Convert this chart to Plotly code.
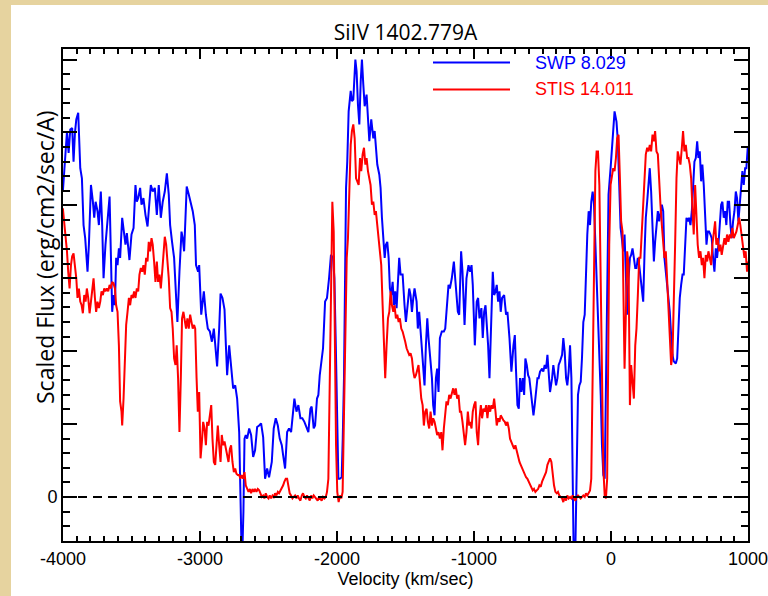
import plotly.graph_objects as go

# ---------------- data (velocity km/s, scaled flux in major-tick units) ----------------
vel_swp = [-4001,-3984,-3971,-3959,-3947,-3933,-3923,-3913,-3903,-3889,-3874,-3862,-3850,-3838,-3821,-3811,
           -3796,-3782,-3772,-3762,-3748,-3738,-3724,-3714,-3704,-3690,-3675,-3660,-3651,-3641,-3631,-3621,
           -3612,-3602,-3592,-3583,-3568,-3553,-3544,-3534,-3524,-3515,-3500,-3485,-3471,-3461,-3451,-3437,
           -3427,-3413,-3398,-3383,-3369,-3359,-3345,-3330,-3315,-3301,-3286,-3272,-3257,-3242,-3228,-3218,
           -3204,-3189,-3174,-3165,-3150,-3135,-3126,-3116,-3106,-3097,-3082,-3067,-3053,-3038,-3029,-3014,
           -3006,-2991,-2972,-2957,-2943,-2928,-2913,-2899,-2889,-2875,-2860,-2850,-2836,-2821,-2811,-2802,
           -2787,-2773,-2758,-2743,-2729,-2714,-2705,-2697,-2690,-2683,-2675,-2666,-2656,-2641,-2627,-2612,
           -2598,-2583,-2568,-2554,-2539,-2525,-2510,-2496,-2476,-2462,-2447,-2432,-2418,-2403,-2393,-2379,
           -2364,-2350,-2335,-2321,-2311,-2296,-2282,-2267,-2253,-2238,-2223,-2209,-2194,-2185,-2170,-2160,
           -2146,-2136,-2126,-2112,-2102,-2087,-2073,-2058,-2044,-2029,-2019,-2010,-2000,-1990,-1980,-1966,
           -1958,-1949,-1934,-1925,-1915,-1900,-1891,-1881,-1866,-1857,-1847,-1837,-1827,-1818,-1808,-1798,
           -1784,-1774,-1764,-1750,-1735,-1725,-1716,-1706,-1691,-1682,-1672,-1662,-1652,-1643,-1633,-1623,
           -1614,-1604,-1594,-1584,-1575,-1565,-1555,-1546,-1536,-1521,-1507,-1497,-1482,-1473,-1463,-1453,
           -1443,-1434,-1419,-1410,-1400,-1390,-1380,-1371,-1361,-1351,-1341,-1332,-1322,-1307,-1298,-1288,
           -1278,-1269,-1259,-1249,-1235,-1220,-1210,-1196,-1186,-1176,-1162,-1147,-1133,-1118,-1108,-1094,
           -1084,-1069,-1055,-1040,-1028,-1018,-1009,-994,-980,-970,-960,-946,-936,-926,-916,-907,-897,-887,
           -873,-863,-853,-843,-834,-824,-814,-805,-795,-780,-766,-756,-741,-727,-712,-702,-693,-683,-673,
           -664,-654,-644,-634,-625,-615,-605,-596,-586,-576,-566,-557,-547,-537,-528,-518,-503,-494,-484,
           -474,-464,-455,-445,-430,-421,-411,-401,-391,-382,-372,-357,-348,-338,-328,-319,-309,-299,-289,
           -280,-273,-260,-251,-241,-231,-221,-212,-202,-192,-183,-173,-163,-153,-144,-134,-124,-114,-105,
           -95,-85,-75,-66,-56,-46,-37,-28,-18,-3,11,26,40,50,60,70,79,89,99,109,118,128,138,147,157,167,
           177,186,196,206,215,225,235,245,254,264,274,283,293,303,313,322,332,342,352,361,371,381,390,400,
           410,420,429,439,449,458,473,483,492,502,512,522,531,541,551,561,570,580,590,599,609,619,629,638,
           648,658,667,677,687,697,706,716,726,735,745,755,765,774,784,794,804,813,823,833,842,852,862,872,
           881,891,901,911,920,930,940,949,959,969,979,988,998]
flux_swp = [4.19,4.70,5.01,4.72,5.04,5.06,4.60,4.99,5.18,5.27,4.51,4.37,3.73,3.55,3.09,3.46,
            4.28,4.05,3.83,4.05,3.92,3.73,4.19,3.73,3.00,3.46,3.80,4.12,3.37,2.54,2.77,2.63,
            3.28,3.18,3.41,3.28,3.83,3.55,3.46,3.62,3.37,3.25,3.60,3.69,4.28,4.05,4.10,4.24,
            4.01,4.10,3.87,3.71,4.05,4.28,4.19,4.24,3.87,4.28,3.83,4.05,4.19,4.44,4.15,3.73,
            3.50,3.28,2.73,2.40,3.09,3.64,3.55,3.37,3.83,4.26,4.15,4.05,3.92,3.73,3.18,3.09,
            3.18,2.50,2.82,2.50,2.31,2.27,2.13,2.31,2.08,1.79,2.31,2.79,2.73,2.57,2.08,1.67,
            2.08,1.81,1.49,1.53,1.35,0.89,0.25,-0.70,-0.70,-0.20,0.80,0.85,0.80,0.94,0.85,0.55,
            0.64,0.96,0.98,1.01,0.82,0.25,0.39,0.27,0.48,0.94,1.08,0.98,0.80,0.71,0.57,0.39,
            0.89,0.94,0.89,1.17,1.35,1.17,1.26,1.08,1.08,1.03,0.96,0.89,1.21,1.24,0.94,0.98,
            1.35,1.40,1.67,1.95,2.04,2.68,2.73,3.00,3.32,3.28,3.00,2.20,1.00,0.25,0.25,0.27,
            0.80,1.63,4.24,4.60,5.29,5.57,5.43,5.45,6.00,5.84,5.38,5.11,5.70,6.00,5.66,5.36,
            5.52,5.25,4.88,5.18,4.92,5.02,4.83,4.56,4.42,4.24,3.83,3.55,3.28,3.46,3.50,3.28,
            2.86,2.77,2.95,2.63,2.82,2.59,3.09,3.28,3.05,3.05,2.63,2.40,2.68,2.86,2.77,2.54,
            2.73,2.86,2.68,2.31,2.54,2.27,2.08,1.81,1.53,2.08,2.45,2.18,1.95,1.63,1.26,1.12,
            1.63,1.76,1.44,2.18,2.27,2.27,2.31,2.63,2.91,2.86,3.00,3.23,2.91,2.54,2.50,3.37,
            3.09,2.36,3.00,3.18,3.09,3.18,2.91,2.08,2.68,2.73,2.45,2.59,2.18,2.54,2.63,2.40,2.08,1.63,
            2.54,3.09,2.77,2.82,2.91,2.68,2.82,2.54,2.73,2.77,2.50,2.54,2.18,1.72,2.08,2.22,1.72,1.26,1.21,
            1.63,1.44,1.63,1.40,1.90,1.81,1.67,1.63,1.44,1.26,1.12,1.26,1.44,1.63,1.63,1.72,1.76,1.72,1.81,
            1.76,1.95,1.72,1.44,1.63,1.81,1.67,1.53,1.63,1.81,1.86,1.95,2.18,1.99,1.63,1.53,1.72,2.08,1.63,
            0.25,-0.70,-0.70,0.48,1.40,1.53,1.58,1.90,2.40,2.50,3.23,3.60,3.92,3.73,4.05,4.19,4.01,3.46,3.00,
            2.54,2.08,1.40,0.71,0.30,0.25,1.63,3.00,4.15,4.51,4.88,5.29,5.15,4.88,4.28,3.69,3.55,3.37,3.60,3.00,2.50,3.00,3.28,3.32,3.41,3.28,
            3.14,3.14,3.28,3.18,3.00,2.82,2.68,3.37,3.83,4.05,4.28,4.51,4.19,3.64,3.23,3.50,3.73,3.92,3.78,3.87,4.01,3.92,3.28,3.09,
            2.91,2.77,2.54,2.22,1.95,1.86,1.83,1.90,2.31,2.73,2.91,3.05,3.05,3.46,3.83,3.78,3.83,3.73,3.92,4.24,4.60,4.65,4.88,4.65,
            4.74,4.33,4.56,4.28,3.83,3.46,3.64,3.64,3.60,3.55,3.28,3.09,3.41,3.28,3.46,3.69,4.01,4.05,3.83,3.92,3.73,4.05,4.05,3.73,
            3.55,3.78,3.92,4.19,4.10,3.78,4.01,4.19,4.47,4.28,4.51,4.51,4.79]

vel_stis = [-4001,-3991,-3981,-3971,-3962,-3952,-3942,-3933,-3923,-3913,-3903,-3894,-3884,-3874,-3864,-3855,
            -3845,-3835,-3826,-3816,-3806,-3796,-3787,-3777,-3767,-3758,-3748,-3738,-3728,-3719,-3709,-3699,
            -3690,-3680,-3670,-3660,-3651,-3641,-3631,-3621,-3612,-3602,-3592,-3583,-3573,-3568,-3558,-3549,
            -3539,-3529,-3519,-3510,-3500,-3490,-3481,-3471,-3461,-3451,-3442,-3432,-3422,-3413,-3403,-3393,
            -3383,-3374,-3364,-3354,-3345,-3335,-3325,-3315,-3306,-3296,-3286,-3276,-3267,-3257,-3247,-3238,
            -3228,-3218,-3208,-3199,-3189,-3179,-3170,-3160,-3150,-3140,-3131,-3121,-3111,-3102,-3092,-3082,
            -3072,-3063,-3053,-3043,-3035,-3025,-3016,-3006,-2996,-2986,-2977,-2967,-2957,-2948,-2938,-2928,
            -2918,-2909,-2899,-2889,-2879,-2870,-2860,-2850,-2841,-2831,-2821,-2811,-2802,-2792,-2782,-2773,
            -2763,-2753,-2743,-2734,-2724,-2714,-2705,-2695,-2685,-2675,-2666,-2656,-2646,-2636,-2627,-2617,
            -2607,-2598,-2588,-2578,-2568,-2559,-2549,-2539,-2530,-2520,-2510,-2500,-2491,-2481,-2471,-2462,
            -2452,-2442,-2432,-2423,-2413,-2403,-2393,-2384,-2374,-2364,-2355,-2345,-2335,-2325,-2316,-2306,
            -2296,-2287,-2277,-2267,-2257,-2248,-2238,-2228,-2219,-2209,-2199,-2189,-2180,-2170,-2160,-2151,
            -2141,-2131,-2121,-2112,-2102,-2092,-2082,-2073,-2063,-2053,-2044,-2034,-2024,-2017,-2007,-1998,
            -1988,-1978,-1968,-1959,-1949,-1939,-1929,-1920,-1910,-1900,-1891,-1881,-1871,-1861,-1852,-1842,
            -1832,-1823,-1813,-1803,-1793,-1784,-1774,-1764,-1755,-1745,-1735,-1725,-1716,-1706,-1696,-1686,
            -1677,-1667,-1657,-1648,-1638,-1628,-1618,-1609,-1599,-1589,-1580,-1570,-1560,-1550,-1541,-1531,
            -1521,-1512,-1502,-1492,-1482,-1473,-1463,-1453,-1443,-1434,-1424,-1414,-1405,-1395,-1385,-1375,
            -1366,-1356,-1346,-1337,-1327,-1317,-1307,-1298,-1288,-1278,-1269,-1259,-1249,-1239,-1230,-1220,
            -1210,-1201,-1191,-1181,-1171,-1162,-1152,-1142,-1133,-1123,-1113,-1103,-1094,-1084,-1074,-1065,
            -1055,-1045,-1035,-1028,-1018,-1009,-999,-989,-980,-970,-960,-950,-941,-931,-921,-911,-902,-892,
            -882,-873,-863,-853,-843,-834,-824,-814,-805,-795,-785,-775,-766,-756,-746,-737,-727,-717,-707,
            -698,-688,-678,-668,-659,-649,-639,-630,-620,-610,-600,-591,-581,-571,-562,-552,-542,-532,-523,
            -513,-503,-494,-484,-474,-464,-455,-445,-435,-425,-416,-406,-396,-387,-377,-367,-357,-348,-338,
            -328,-319,-309,-299,-289,-280,-270,-260,-251,-241,-231,-221,-212,-202,-192,-183,-173,-163,-153,
            -144,-134,-124,-114,-105,-95,-85,-75,-66,-56,-46,-37,-28,-23,-13,-3,6,16,26,36,45,55,65,74,84,94,
            99,109,118,128,138,147,157,167,177,186,196,206,215,225,235,245,254,264,274,283,293,303,313,322,
            332,342,352,361,371,381,390,400,410,420,429,439,449,458,468,478,487,497,507,517,526,536,546,556,
            565,575,585,595,604,614,624,633,643,653,663,672,682,692,702,711,721,731,740,750,760,769,779,789,
            799,808,818,828,838,847,857,867,876,886,896,906,915,925,935,944,954,964,974,983,993,998]
flux_stis = [3.96,3.78,3.55,3.37,3.09,2.86,3.18,3.30,3.34,3.18,3.00,2.73,2.86,2.68,2.63,2.52,
             2.77,2.68,2.86,2.73,2.52,2.68,2.82,3.00,2.73,2.54,2.68,2.59,2.68,2.82,2.77,2.86,
             2.82,2.86,2.82,2.91,2.86,2.95,2.93,2.86,2.63,2.54,2.08,1.31,1.17,0.98,1.35,1.99,
             2.36,2.54,2.73,2.63,2.77,2.73,2.82,2.73,2.86,2.82,3.05,3.14,3.09,3.18,3.05,3.28,
             3.23,3.50,3.37,3.55,3.46,3.23,2.95,3.23,2.95,3.05,2.86,3.09,3.37,3.57,3.46,3.23,
             3.00,2.59,2.54,2.31,1.90,1.81,2.08,1.63,0.89,1.63,2.45,2.54,2.40,2.31,2.45,2.31,
             2.50,2.40,2.31,2.36,2.31,1.63,1.17,1.44,0.53,0.76,1.03,0.94,0.71,1.03,0.98,1.12,
             1.26,0.80,0.48,0.44,0.71,0.98,0.71,0.48,0.85,0.71,0.76,0.66,0.57,0.48,0.66,0.71,
             0.48,0.34,0.39,0.32,0.30,0.30,0.25,0.30,0.25,0.34,0.16,0.11,0.07,0.11,0.05,0.11,
             0.07,0.11,0.07,0.11,0.09,0.05,0.00,0.02,-0.02,0.05,0.00,-0.02,0.02,-0.02,0.02,0.00,
             0.05,0.02,0.07,0.05,0.09,0.11,0.16,0.21,0.25,0.25,0.16,0.05,0.02,-0.02,0.00,0.02,
             -0.02,0.02,-0.02,-0.05,0.02,0.05,0.00,-0.02,0.02,-0.02,-0.05,0.02,-0.02,0.02,0.00,-0.02,
             -0.05,0.00,-0.02,-0.05,0.00,-0.02,0.00,0.07,0.25,1.63,3.23,4.05,3.64,2.08,0.71,0.07,
             -0.07,0.02,-0.02,0.07,1.17,2.54,3.28,3.55,4.28,4.83,5.02,5.11,4.92,4.37,4.33,4.28,
             4.65,4.47,4.70,4.79,4.56,4.65,4.47,4.37,4.28,4.01,4.05,3.87,3.92,3.73,3.55,3.37,
             3.18,2.63,2.08,1.63,2.08,2.45,2.54,2.82,2.63,2.54,2.63,2.45,2.50,2.40,2.45,2.31,
             2.27,2.18,2.13,2.04,1.99,1.95,1.97,1.90,1.72,1.63,1.67,1.76,1.81,1.58,1.35,1.26,
             0.98,1.17,1.21,1.03,0.94,1.17,0.98,1.08,1.03,0.94,0.85,0.89,0.80,0.89,0.64,0.94,
             1.21,1.31,1.26,1.40,1.35,1.44,1.49,1.40,1.49,1.35,1.40,1.17,1.17,1.03,0.85,0.71,
             0.89,1.17,0.98,1.03,0.94,1.17,1.26,1.31,0.89,0.71,1.08,1.26,1.08,1.21,1.17,1.26,1.08,1.26,
             1.17,1.26,1.21,1.35,1.17,0.98,1.08,1.03,1.12,1.08,1.05,1.03,0.98,1.03,0.94,0.80,0.76,0.71,0.66,
             0.71,0.62,0.53,0.48,0.44,0.39,0.34,0.30,0.27,0.25,0.21,0.16,0.14,0.09,0.11,0.07,0.09,0.11,0.16,
             0.14,0.21,0.25,0.30,0.34,0.44,0.48,0.53,0.48,0.30,0.16,0.07,0.05,0.07,0.02,0.00,-0.02,-0.07,0.00,
             -0.05,0.02,-0.02,0.00,-0.02,0.02,-0.02,-0.05,0.00,0.02,0.00,-0.02,0.00,0.02,0.00,0.05,0.02,0.05,0.09,
             0.25,1.63,3.46,4.47,4.74,4.74,4.28,2.77,1.40,0.39,0.02,-0.02,0.25,1.63,3.46,4.28,4.37,4.51,4.47,4.65,4.92,4.97,4.37,3.78,3.64,2.54,
             1.76,2.54,3.37,3.18,1.26,1.81,1.58,1.35,2.08,2.31,2.77,3.28,3.28,3.64,4.01,4.37,4.70,4.79,4.74,4.83,4.74,4.97,4.88,5.02,
             4.74,4.70,4.28,4.01,3.73,3.46,3.28,3.37,3.00,2.68,2.31,1.81,1.95,2.54,3.46,4.37,4.74,4.65,4.56,4.79,5.02,4.74,4.83,4.65,
             4.65,4.56,4.37,3.92,3.60,4.28,3.83,3.46,3.28,3.37,3.18,3.28,3.00,3.32,3.23,3.37,3.28,3.18,3.46,3.64,3.78,3.46,3.55,3.37,
             3.46,3.32,3.46,3.55,3.46,3.60,3.50,3.60,3.55,3.69,3.55,3.60,3.64,3.73,3.83,3.73,3.55,3.46,3.28,3.37,3.09,3.23]

x_tickvals = [-4000, -3000, -2000, -1000, 0, 1000]
x_ticktext = ["-4000", "-3000", "-2000", "-1000", "0", "1000"]
y_tickvals = [0, 1, 2, 3, 4, 5, 6]
y_ticktext = ["0", "", "", "", "", "", ""]
legend_names = ["SWP 8.029", "STIS 14.011"]
colors = ["#0000ff", "#ff0000"]

W, H = 768, 596
L, R, T, B = 63, 20, 49, 55
pw, ph = W - L - R, H - T - B


def px2paper_x(px):
    return (px - L) / pw


def px2paper_y(py):
    return (H - B - py) / ph


fig = go.Figure()
fig.add_trace(go.Scatter(x=vel_swp, y=flux_swp, mode="lines", name=legend_names[0],
                         line=dict(color=colors[0], width=2), showlegend=False))
fig.add_trace(go.Scatter(x=vel_stis, y=flux_stis, mode="lines", name=legend_names[1],
                         line=dict(color=colors[1], width=2), showlegend=False))

# zero reference line
fig.add_shape(type="line", xref="paper", yref="y", x0=0, x1=1, y0=0, y1=0,
              line=dict(color="black", width=2, dash="9px,6px"), layer="above")

# parchment border strips
parch = "#e6d39f"
fig.add_shape(type="rect", xref="paper", yref="paper", x0=px2paper_x(0), x1=px2paper_x(11),
              y0=px2paper_y(H), y1=px2paper_y(0), fillcolor=parch, line=dict(width=0), layer="below")
fig.add_shape(type="rect", xref="paper", yref="paper", x0=px2paper_x(0), x1=px2paper_x(W),
              y0=px2paper_y(5), y1=px2paper_y(0), fillcolor=parch, line=dict(width=0), layer="below")

# legend (manual, to match sample line length)
for i, (name, col, py) in enumerate(zip(legend_names, colors, [62.5, 89.5])):
    fig.add_shape(type="line", xref="paper", yref="paper", x0=px2paper_x(433), x1=px2paper_x(510),
                  y0=px2paper_y(py), y1=px2paper_y(py), line=dict(color=col, width=2))
    fig.add_annotation(xref="paper", yref="paper", x=px2paper_x(533), y=px2paper_y(py),
                       text=name, showarrow=False, xanchor="left", yanchor="middle",
                       font=dict(family="Liberation Sans", size=18, color=col))

# y-axis title
fig.add_annotation(xref="paper", yref="paper", x=px2paper_x(45), y=px2paper_y(257),
                   text="Scaled Flux (erg/cm2/sec/A)", textangle=-90, showarrow=False,
                   xanchor="center", yanchor="middle",
                   font=dict(family="Open Sans", size=23, color="black"))

axis_common = dict(showline=True, linecolor="black", linewidth=2, mirror="ticks",
                   ticks="inside", tickcolor="black", showgrid=False, zeroline=False,
                   automargin=False,
                   tickfont=dict(family="Liberation Sans", size=18, color="black"))

fig.update_layout(
    width=W, height=H,
    margin=dict(l=L, r=R, t=T, b=B, pad=0, autoexpand=False),
    paper_bgcolor="white", plot_bgcolor="white",
    title=dict(text="SiIV 1402.779A", x=0.5, xref="paper", xanchor="center",
               y=1 - 33 / H, yref="container", yanchor="middle",
               font=dict(family="Open Sans", size=21, color="black")),
    xaxis=dict(range=[-4000, 1000], tickmode="array", tickvals=x_tickvals, ticktext=x_ticktext,
               ticklen=10, tickwidth=2, ticklabeloverflow="allow",
               minor=dict(tickmode="linear", tick0=0, dtick=100, ticks="inside", ticklen=5,
                          tickwidth=1.5, tickcolor="black"),
               title=dict(text="Velocity (km/sec)", standoff=4,
                          font=dict(family="Liberation Sans", size=18, color="black")),
               **axis_common),
    yaxis=dict(range=[-0.604, 6.145], tickmode="array", tickvals=y_tickvals, ticktext=y_ticktext,
               ticklen=14, tickwidth=2,
               minor=dict(tickmode="linear", tick0=0, dtick=0.2, ticks="inside", ticklen=7,
                          tickwidth=1.5, tickcolor="black"),
               **axis_common),
)

fig.write_html("out.html")
